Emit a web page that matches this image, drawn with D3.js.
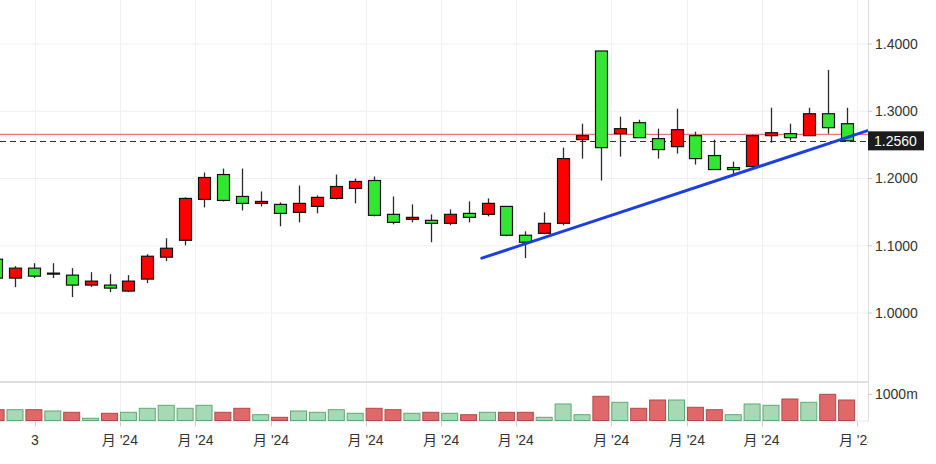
<!DOCTYPE html>
<html><head><meta charset="utf-8">
<script src="https://cdn.jsdelivr.net/npm/d3@7"></script>
<style>
html,body{margin:0;padding:0;background:#fff;}
svg{display:block;font-family:"Liberation Sans",Arial,"Noto Sans CJK SC",sans-serif;}
</style>
</head><body>
<svg id="chart" width="936" height="464"></svg>
<script>
// ---- data (weekly candles, index -1 .. 44) ----
const opens  = [1.0800,1.0519,1.0667,1.0593,1.0563,1.0415,1.0415,1.0326,1.0504,1.0830,1.1081,1.1689,1.2059,1.1733,1.1630,1.1615,1.1496,1.1585,1.1704,1.1852,1.1970,1.1467,1.1393,1.1378,1.1333,1.1481,1.1467,1.1585,1.1156,1.1185,1.1333,1.2578,1.3896,1.2667,1.2830,1.2593,1.2474,1.2637,1.2341,1.2163,1.2178,1.2637,1.2667,1.2637,1.2963,1.2815];
const highs  = [1.0815,1.0696,1.0741,1.0741,1.0667,1.0607,1.0578,1.0563,1.0874,1.1111,1.1719,1.2089,1.2148,1.2148,1.1807,1.1644,1.1896,1.1748,1.2059,1.2000,1.2030,1.1733,1.1615,1.1467,1.1541,1.1659,1.1704,1.1585,1.1215,1.1496,1.2459,1.2815,1.3896,1.2919,1.2874,1.2741,1.3037,1.2696,1.2578,1.2252,1.2652,1.3052,1.2815,1.3052,1.3615,1.3052];
const lows   = [1.0504,1.0385,1.0519,1.0519,1.0237,1.0385,1.0311,1.0311,1.0444,1.0770,1.1007,1.1570,1.1659,1.1526,1.1585,1.1289,1.1348,1.1481,1.1689,1.1630,1.1437,1.1319,1.1348,1.1052,1.1304,1.1348,1.1437,1.1141,1.0815,1.1170,1.1304,1.2296,1.1970,1.2326,1.2607,1.2296,1.2370,1.2207,1.2133,1.2059,1.2178,1.2533,1.2563,1.2637,1.2667,1.2560];
const closes = [1.0519,1.0667,1.0548,1.0593,1.0415,1.0474,1.0370,1.0474,1.0844,1.0963,1.1704,1.2015,1.1674,1.1630,1.1659,1.1481,1.1630,1.1719,1.1881,1.1956,1.1452,1.1348,1.1422,1.1333,1.1467,1.1422,1.1630,1.1156,1.1052,1.1333,1.2296,1.2637,1.2459,1.2741,1.2607,1.2430,1.2726,1.2296,1.2133,1.2133,1.2637,1.2681,1.2607,1.2963,1.2756,1.2560];
const volumes = [412,412,412,363,313,84,275,313,466,580,466,580,313,466,221,122,363,313,412,275,466,412,275,313,275,221,313,313,313,122,630,221,924,695,466,782,782,504,412,221,630,580,821,695,1000,782];
const volUp   = [0,1,0,1,0,1,0,1,1,1,1,1,0,0,1,0,1,1,1,1,0,0,1,0,1,0,1,0,0,1,1,1,0,1,0,0,1,0,0,1,1,1,0,1,0,0];
const firstIndex = -1;

const priceTicks = [1.0, 1.1, 1.2, 1.3, 1.4];
const volTicks = [1000];
const xTickPos = [1.05, 5.55, 9.55, 13.55, 18.55, 22.55, 26.5, 31.55, 35.55, 39.5, 44.55];
const xTickLabels = ["3", "月 '24", "月 '24", "月 '24", "月 '24", "月 '24", "月 '24", "月 '24", "月 '24", "月 '24", "月 '24"];

const lastPrice = 1.2560;
const refLine = 1.2657;
const trendIdx = [24.7, 46.7];
const trendVal = [1.0815, 1.2859];

// ---- layout ----
const svg = d3.select("#chart");
const W = 936, H = 464;
const plotRight = 868;
const mainTop = 0, mainBottom = 382;
const volTop = 382, volBottom = 420.5;

const x = d3.scaleLinear().domain([0, 44]).range([15, 846.6]);
const y = d3.scaleLinear().domain([1.0, 1.4]).range([313, 44]);
const yv = d3.scaleLinear().domain([0, 1000]).range([volBottom, 394.3]);

const data = opens.map((o, k) => ({
  i: k + firstIndex, o, h: highs[k], l: lows[k], c: closes[k], v: volumes[k], vu: volUp[k]
}));

svg.append("defs").append("clipPath").attr("id", "plotclip")
  .append("rect").attr("x", 0).attr("y", 0).attr("width", plotRight).attr("height", H);

// grid
const grid = svg.append("g");
grid.selectAll("line.hg").data(priceTicks).join("line")
  .attr("x1", 0).attr("x2", plotRight)
  .attr("y1", d => y(d)).attr("y2", d => y(d))
  .attr("stroke", "#f0f0f0").attr("stroke-width", 1);
grid.selectAll("line.vg").data(xTickPos).join("line")
  .attr("x1", d => Math.round(x(d)) + 0.5).attr("x2", d => Math.round(x(d)) + 0.5)
  .attr("y1", 0).attr("y2", volBottom)
  .attr("stroke", "#f0f0f0").attr("stroke-width", 1);

// panel separators
svg.append("line").attr("x1", 0).attr("x2", plotRight).attr("y1", volTop).attr("y2", volTop)
  .attr("stroke", "#d4d4d4").attr("stroke-width", 1.5);
svg.append("line").attr("x1", 0).attr("x2", plotRight).attr("y1", volBottom + 0.5).attr("y2", volBottom + 0.5)
  .attr("stroke", "#e4e4e4").attr("stroke-width", 1);

// volume bars
const plot = svg.append("g").attr("clip-path", "url(#plotclip)");
plot.append("g").selectAll("rect").data(data).join("rect")
  .attr("x", d => x(d.i) - 8).attr("width", 16)
  .attr("y", d => yv(d.v)).attr("height", d => volBottom - yv(d.v))
  .attr("fill", d => d.vu ? "#a8d9b4" : "#e06868")
  .attr("stroke", d => d.vu ? "#5fa873" : "#b04a4a").attr("stroke-width", 1);

// reference lines
plot.append("line").attr("x1", 0).attr("x2", plotRight)
  .attr("y1", y(refLine)).attr("y2", y(refLine))
  .attr("stroke", "#e05a5a").attr("stroke-width", 1);
plot.append("line").attr("x1", 0).attr("x2", plotRight)
  .attr("y1", Math.round(y(lastPrice)) + 0.5).attr("y2", Math.round(y(lastPrice)) + 0.5)
  .attr("stroke", "#333").attr("stroke-width", 1).attr("stroke-dasharray", "6,4");

// candles
const cg = plot.append("g");
cg.selectAll("line.wick").data(data).join("line")
  .attr("x1", d => Math.round(x(d.i)) + 0.5).attr("x2", d => Math.round(x(d.i)) + 0.5)
  .attr("y1", d => y(d.h)).attr("y2", d => y(d.l))
  .attr("stroke", "#2a2a2a").attr("stroke-width", 1.3);
cg.selectAll("rect.body").data(data).join("rect")
  .attr("x", d => Math.round(x(d.i)) - 6 + 0.5).attr("width", 12)
  .attr("y", d => y(Math.max(d.o, d.c)))
  .attr("height", d => Math.max(1, Math.abs(y(d.o) - y(d.c))))
  .attr("fill", d => d.c > d.o ? "#ff0000" : (d.c < d.o ? "#33e633" : "#111"))
  .attr("stroke", "#111").attr("stroke-width", 1.2);

// trend line
plot.append("line")
  .attr("x1", x(trendIdx[0])).attr("y1", y(trendVal[0]))
  .attr("x2", x(trendIdx[1])).attr("y2", y(trendVal[1]))
  .attr("stroke", "#1e3fe0").attr("stroke-width", 3).attr("stroke-linecap", "round");

// right axis line
svg.append("line").attr("x1", plotRight + 0.5).attr("x2", plotRight + 0.5)
  .attr("y1", 0).attr("y2", volBottom + 1)
  .attr("stroke", "#dcdcdc").attr("stroke-width", 1);

// price axis
const ya = svg.append("g");
ya.selectAll("line").data(priceTicks).join("line")
  .attr("x1", plotRight).attr("x2", plotRight + 4)
  .attr("y1", d => y(d)).attr("y2", d => y(d)).attr("stroke", "#ccc");
ya.selectAll("text").data(priceTicks).join("text")
  .attr("x", 875).attr("y", d => y(d)).attr("dy", "0.35em")
  .attr("font-size", 14).attr("fill", "#333")
  .text(d => d3.format(".4f")(d));

// volume axis
const va = svg.append("g");
va.selectAll("line").data(volTicks).join("line")
  .attr("x1", plotRight).attr("x2", plotRight + 4)
  .attr("y1", d => yv(d)).attr("y2", d => yv(d)).attr("stroke", "#ccc");
va.selectAll("text").data(volTicks).join("text")
  .attr("x", 875).attr("y", d => yv(d)).attr("dy", "0.35em")
  .attr("font-size", 14).attr("fill", "#333")
  .text(d => d + "m");

// last price label
const lp = svg.append("g").attr("transform", `translate(${plotRight},${y(lastPrice)})`);
lp.append("rect").attr("x", 0).attr("y", -9.5).attr("width", 56).attr("height", 19).attr("fill", "#1c1c1c");
lp.append("text").attr("x", 6).attr("y", 0).attr("dy", "0.35em")
  .attr("font-size", 14).attr("fill", "#fff").text(d3.format(".4f")(lastPrice));

// x axis
const xa = svg.append("g");
xa.selectAll("line").data(xTickPos).join("line")
  .attr("x1", d => Math.round(x(d)) + 0.5).attr("x2", d => Math.round(x(d)) + 0.5)
  .attr("y1", volBottom + 1).attr("y2", volBottom + 6).attr("stroke", "#ccc");
const xl = svg.append("g").attr("clip-path", "url(#plotclip)");
xl.selectAll("text").data(xTickPos).join("text")
  .attr("x", d => x(d)).attr("y", 445)
  .attr("text-anchor", "middle").attr("font-size", 14).attr("fill", "#333")
  .text((d, k) => xTickLabels[k]);
</script>
</body></html>
